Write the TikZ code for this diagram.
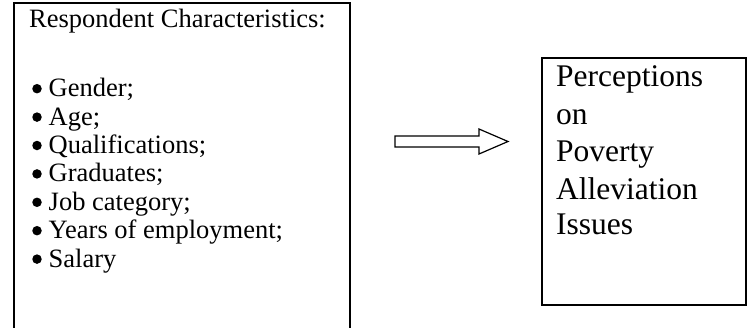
\documentclass[tikz,border=0pt]{standalone}
\usepackage{fontspec}
\setmainfont{Liberation Serif}
\tikzset{
  box/.style={draw=black, line width=1.8pt},
  lefttxt/.style={anchor=base west, inner sep=0pt, font=\fontsize{26.5}{28.4}\selectfont},
  righttxt/.style={anchor=base west, inner sep=0pt, font=\fontsize{31.5}{37}\selectfont},
  bulletdot/.style={circle, fill=black, inner sep=0pt, minimum size=9.5pt},
  blockarrow/.style={draw=black, line width=1.2pt, fill=white}
}
\begin{document}
\begin{tikzpicture}[x=1pt,y=-1pt]
\useasboundingbox (0,0) rectangle (749,327);
\begin{scope}
\clip (0,0) rectangle (749,327);
\draw[box] (14,3) rectangle (350,340);
\end{scope}
\node[lefttxt] (title) at (29,27.3) {Respondent Characteristics:};
\foreach \t [count=\i] in {Gender;,Age;,Qualifications;,Graduates;,Job category;,Years of employment;,Salary}{
  \node[bulletdot] (dot\i) at (37,{96.7+(\i-1)*28.4-8}) {};
  \node[lefttxt] (item\i) at (48.5,{96.7+(\i-1)*28.4}) {\t};
}
\draw[box] (542,58) rectangle (746,305);
\node[righttxt] (r1) at (556,86.7) {Perceptions};
\node[righttxt] (r2) at (556,124) {on};
\node[righttxt] (r3) at (556,161.7) {Poverty};
\node[righttxt] (r4) at (556,199) {Alleviation};
\node[righttxt] (r5) at (556,234) {Issues};
\draw[blockarrow] (395,136) coordinate (a0) -- (479,136) -- (479,129) -- (508,141.5) coordinate (tip) -- (479,154) -- (479,147) -- (395,147) -- cycle;
\end{tikzpicture}
\end{document}
